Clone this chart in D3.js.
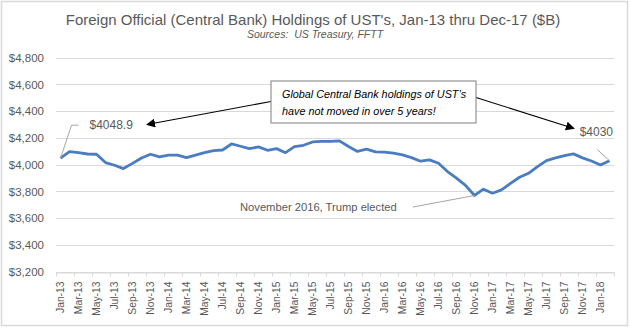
<!DOCTYPE html>
<html>
<head>
<meta charset="utf-8">
<script src="https://cdn.jsdelivr.net/npm/d3@7"></script>
<style>
  html, body { margin: 0; padding: 0; background: #fff; }
  svg { display: block; }
  text { font-family: "Liberation Sans", Arial, sans-serif; white-space: pre; }
</style>
</head>
<body>
<svg id="chart" width="630" height="328"></svg>
<script>
const months = [
  "Jan-13","Feb-13","Mar-13","Apr-13","May-13","Jun-13","Jul-13","Aug-13","Sep-13","Oct-13","Nov-13","Dec-13",
  "Jan-14","Feb-14","Mar-14","Apr-14","May-14","Jun-14","Jul-14","Aug-14","Sep-14","Oct-14","Nov-14","Dec-14",
  "Jan-15","Feb-15","Mar-15","Apr-15","May-15","Jun-15","Jul-15","Aug-15","Sep-15","Oct-15","Nov-15","Dec-15",
  "Jan-16","Feb-16","Mar-16","Apr-16","May-16","Jun-16","Jul-16","Aug-16","Sep-16","Oct-16","Nov-16","Dec-16",
  "Jan-17","Feb-17","Mar-17","Apr-17","May-17","Jun-17","Jul-17","Aug-17","Sep-17","Oct-17","Nov-17","Dec-17",
  "Jan-18","Feb-18"
];
const holdings = [
  4048.9, 4098, 4090, 4080, 4078, 4016, 3996, 3971, 4010, 4050, 4078, 4058,
  4071, 4071, 4053, 4071, 4090, 4105, 4110, 4155, 4138, 4120, 4133, 4108,
  4120, 4090, 4135, 4145, 4170, 4175, 4175, 4178, 4136, 4099, 4116, 4096,
  4094, 4086, 4073, 4053, 4026, 4036, 4011, 3949, 3899, 3845, 3770, 3817,
  3787, 3812, 3861, 3906, 3936, 3986, 4031, 4051, 4068, 4081, 4051, 4028,
  3998, 4030
];
const yTicks = [3200, 3400, 3600, 3800, 4000, 4200, 4400, 4600, 4800];
const xTickLabels = months.filter((m, i) => i % 2 === 0);
const titleText = "Foreign Official (Central Bank) Holdings of UST's, Jan-13 thru Dec-17 ($B)";
const subtitleText = "Sources:  US Treasury, FFTT";
const boxLines = ["Global Central Bank holdings of UST\u2019s", "have not moved in over 5 years!"];
const startLabel = "$4048.9";
const endLabel = "$4030";
const electionLabel = "November 2016, Trump elected";
const electionMonth = "Nov-16";

const svg = d3.select("#chart");
const gray = "#595959";

// outer border
svg.append("rect").attr("x", 1.5).attr("y", 1.5).attr("width", 626).attr("height", 324)
  .attr("fill", "#fff").attr("stroke", "#d9d9d9").attr("stroke-width", 1.5);

const x = d3.scaleBand().domain(months).range([56, 614]).padding(0);
const y = d3.scaleLinear().domain([3200, 4800]).range([271.7, 57.7]);
const cx = m => x(m) + x.bandwidth() / 2;

// title
svg.append("text").attr("x", 313).attr("y", 25).attr("text-anchor", "middle")
  .attr("font-size", 15).attr("fill", gray).text(titleText);
svg.append("text").attr("x", 315).attr("y", 38).attr("text-anchor", "middle")
  .attr("font-size", 10.5).attr("font-style", "italic").attr("fill", gray).text(subtitleText);

// gridlines
svg.append("g").selectAll("line").data(yTicks).join("line")
  .attr("x1", 56).attr("x2", 614)
  .attr("y1", d => Math.round(y(d)) + 0.5).attr("y2", d => Math.round(y(d)) + 0.5)
  .attr("stroke", "#d9d9d9").attr("stroke-width", 1);

// y axis labels
const yAxis = svg.append("g").attr("transform", "translate(56,0)")
  .call(d3.axisLeft(y).tickValues(yTicks).tickSize(0).tickPadding(12)
    .tickFormat(d => "$" + d3.format(",")(d)));
yAxis.select(".domain").remove();
yAxis.selectAll("text").attr("font-size", 11.5).attr("fill", gray)
  .attr("font-family", "Liberation Sans, Arial, sans-serif");

// x axis
const xAxisY = Math.round(y(3200)) + 0.5;
const xg = svg.append("g").attr("transform", `translate(0,${xAxisY})`)
  .call(d3.axisBottom(x).tickValues(xTickLabels).tickSize(0).tickPadding(0));
xg.select(".domain").attr("stroke", "#d9d9d9");
xg.selectAll("text")
  .attr("font-size", 10.3).attr("fill", gray)
  .attr("font-family", "Liberation Sans, Arial, sans-serif")
  .attr("transform", "rotate(-90)")
  .attr("text-anchor", "end").attr("dy", "0.35em").attr("x", -9).attr("y", 0);
// tick marks at category boundaries every 2 categories
const tickPos = xTickLabels.map(m => x(m)).concat([x.range()[1]]);
svg.append("g").selectAll("line").data(tickPos).join("line")
  .attr("x1", d => Math.round(d) + 0.5).attr("x2", d => Math.round(d) + 0.5)
  .attr("y1", xAxisY).attr("y2", xAxisY + 4)
  .attr("stroke", "#d9d9d9");

// line
const line = d3.line().x((d, i) => cx(months[i])).y(d => y(d));
svg.append("path").datum(holdings).attr("d", line)
  .attr("fill", "none").attr("stroke", "#4a7dc0").attr("stroke-width", 2.8)
  .attr("stroke-linejoin", "round");

// annotation: start value
const x0 = cx(months[0]), y0 = y(holdings[0]);
svg.append("polyline")
  .attr("points", `${x0},${y0} ${x0 + 11},${y0 - 33} ${x0 + 18},${y0 - 33}`)
  .attr("fill", "none").attr("stroke", "#a6a6a6").attr("stroke-width", 1);
svg.append("text").attr("x", x0 + 29).attr("y", y0 - 29.5)
  .attr("font-size", 12).attr("fill", gray).text(startLabel);

// annotation: end value
const xn = cx(months[months.length - 1]), yn = y(holdings[holdings.length - 1]);
svg.append("line").attr("x1", xn).attr("y1", yn).attr("x2", xn - 12).attr("y2", yn - 11)
  .attr("stroke", "#a6a6a6").attr("stroke-width", 1);
svg.append("text").attr("x", 613).attr("y", 136).attr("text-anchor", "end")
  .attr("font-size", 12).attr("fill", gray).text(endLabel);

// annotation: election
const xe = cx(electionMonth), ye = y(holdings[months.indexOf(electionMonth)]);
svg.append("line").attr("x1", xe).attr("y1", ye).attr("x2", 413).attr("y2", 207)
  .attr("stroke", "#a6a6a6").attr("stroke-width", 1);
svg.append("text").attr("x", 240).attr("y", 210.5)
  .attr("font-size", 11.2).attr("fill", gray).text(electionLabel);

// arrows
const defs = svg.append("defs");
defs.append("marker").attr("id", "ah").attr("viewBox", "0 0 10 10")
  .attr("refX", 9).attr("refY", 5).attr("markerWidth", 9).attr("markerHeight", 9)
  .attr("markerUnits", "userSpaceOnUse").attr("orient", "auto")
  .append("path").attr("d", "M0,0 L10,5 L0,10 z").attr("fill", "#000");
svg.append("line").attr("x1", 271).attr("y1", 101.5).attr("x2", 147).attr("y2", 124.5)
  .attr("stroke", "#000").attr("stroke-width", 1.1).attr("marker-end", "url(#ah)");
svg.append("line").attr("x1", 476).attr("y1", 97.5).attr("x2", 574).attr("y2", 128.5)
  .attr("stroke", "#000").attr("stroke-width", 1.1).attr("marker-end", "url(#ah)");

// text box
svg.append("rect").attr("x", 271).attr("y", 81).attr("width", 205).attr("height", 42)
  .attr("fill", "#fff").attr("stroke", "#7f7f7f").attr("stroke-width", 1);
svg.append("g").selectAll("text").data(boxLines).join("text")
  .attr("x", 282).attr("y", (d, i) => 97.5 + i * 17)
  .attr("font-size", 10.8).attr("font-style", "italic").attr("fill", "#000").text(d => d);
</script>
</body>
</html>
